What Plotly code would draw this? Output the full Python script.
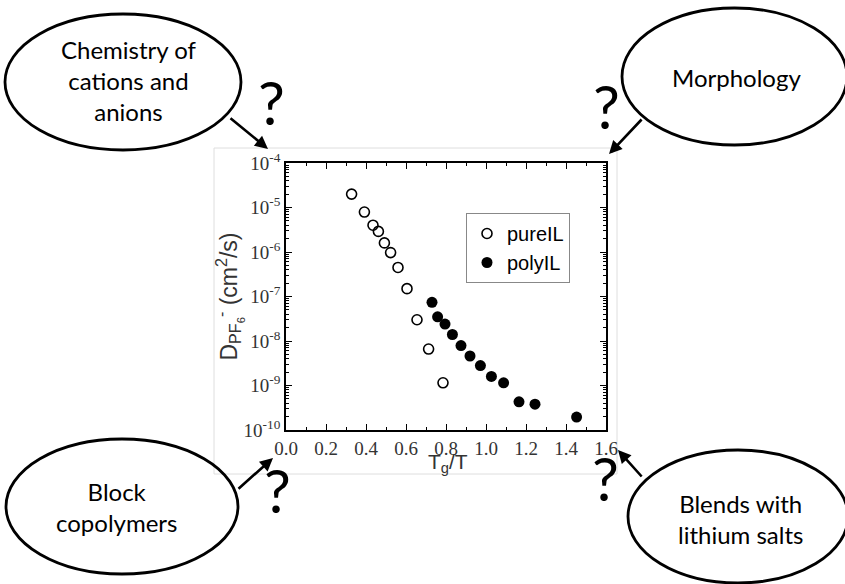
import plotly.graph_objects as go

# Anion diffusivity vs reduced inverse temperature
pure_x = [0.328, 0.392, 0.435, 0.462, 0.492, 0.523, 0.560, 0.605, 0.655, 0.713, 0.785]
pure_d = [2.0e-5, 7.9e-6, 4.0e-6, 2.9e-6, 1.6e-6, 9.7e-7, 4.5e-7, 1.5e-7, 3.0e-8, 6.6e-9, 1.15e-9]

poly_x = [0.730, 0.758, 0.795, 0.832, 0.875, 0.920, 0.972, 1.027, 1.088, 1.165, 1.245, 1.453]
poly_d = [7.4e-8, 3.5e-8, 2.4e-8, 1.4e-8, 7.9e-9, 4.6e-9, 2.8e-9, 1.6e-9, 1.15e-9, 4.3e-10, 3.8e-10, 1.95e-10]

x_ticks = [0.0, 0.2, 0.4, 0.6, 0.8, 1.0, 1.2, 1.4, 1.6]
x_ticktext = ["0.0", "0.2", "0.4", "0.6", "0.8", "1.0", "1.2", "1.4", "1.6"]
y_exponents = [-10, -9, -8, -7, -6, -5, -4]

bubble_texts = ["Chemistry of<br>cations and<br>anions", "Morphology",
                "Block<br>copolymers", "Blends with<br>lithium salts"]

# figure geometry (pixels)
W, H = 845, 584
PL, PR, PT, PB = 286, 606, 163, 430


def px(x):
    return (x - PL) / (PR - PL)


def py(y):
    return (PB - y) / (PB - PT)


fig = go.Figure()
fig.add_trace(go.Scatter(
    x=pure_x, y=pure_d, mode="markers", name="pureIL",
    marker=dict(symbol="circle-open", size=10, color="black", line=dict(width=1.6, color="black")),
))
fig.add_trace(go.Scatter(
    x=poly_x, y=poly_d, mode="markers", name="polyIL",
    marker=dict(symbol="circle", size=11, color="black"),
))

y_tickvals = [10.0 ** e for e in y_exponents]
y_ticktext = ["10<sup>%d</sup>" % e for e in y_exponents]
y_minor = [k * 10.0 ** e for e in y_exponents[:-1] for k in range(2, 10)]

tick_font = dict(family="Liberation Serif, Times New Roman, serif", size=19, color="#333")
sans = "Liberation Sans, Arial, sans-serif"
bubble_font = "Lato, Carlito, Calibri, sans-serif"

fig.update_layout(
    width=W, height=H,
    margin=dict(l=PL, r=W - PR, t=PT, b=H - PB, pad=0),
    paper_bgcolor="white", plot_bgcolor="white",
    template="none",
    showlegend=True,
    legend=dict(
        x=px(466), y=py(213), xanchor="left", yanchor="top",
        bgcolor="white", bordercolor="#888", borderwidth=1,
        font=dict(family=sans, size=20, color="black"),
        itemwidth=30, tracegroupgap=0,
    ),
    xaxis=dict(
        range=[0, 1.6], tickvals=x_ticks, ticktext=x_ticktext,
        ticks="inside", ticklen=6, tickwidth=1.3, tickcolor="black",
        minor=dict(dtick=0.1, tick0=0, ticks="inside", ticklen=3, tickwidth=1.2, tickcolor="black"),
        showline=True, linecolor="black", linewidth=1.8, mirror="ticks",
        showgrid=False, zeroline=False, automargin=False,
        tickfont=tick_font,
    ),
    yaxis=dict(
        type="log", range=[-10, -4], tickvals=y_tickvals, ticktext=y_ticktext,
        ticks="inside", ticklen=6, tickwidth=1.3, tickcolor="black",
        minor=dict(tickvals=y_minor, ticks="inside", ticklen=3, tickwidth=1.0, tickcolor="black"),
        showline=True, linecolor="black", linewidth=1.8, mirror="ticks",
        showgrid=False, zeroline=False, automargin=False,
        tickfont=tick_font,
        title=dict(text="D<sub>PF<sub>6</sub></sub><sup>-</sup> (cm<sup>2</sup>/s)",
                   font=dict(family=sans, size=23, color="#333"), standoff=0),
    ),
)

# x-axis title, set just under the tick labels
fig.add_annotation(xref="paper", yref="paper", x=px(448), y=py(463),
                   text="T<sub>g</sub>/T", showarrow=False, xanchor="center", yanchor="middle",
                   font=dict(family=sans, size=21, color="#333"))

# light frame around the plot panel
fig.add_shape(type="rect", xref="paper", yref="paper",
              x0=px(214), x1=px(617), y0=py(474), y1=py(148),
              line=dict(color="#dedede", width=1), layer="below")

# bubbles: (left, right, top, bottom) in pixels, text centre
bubbles = [
    ((5, 241, 14, 150), (129, 81)),
    ((622, 847, 8, 145), (736, 77)),
    ((6, 238, 439, 574), (116, 507)),
    ((628, 848, 450, 583), (740, 519)),
]
for (l, r, t, b), (tx, ty) in bubbles:
    fig.add_shape(type="circle", xref="paper", yref="paper",
                  x0=px(l), x1=px(r), y0=py(b), y1=py(t),
                  line=dict(color="black", width=2.8))

for text, (_, (tx, ty)) in zip(bubble_texts, bubbles):
    fig.add_annotation(xref="paper", yref="paper", x=px(tx), y=py(ty),
                       text=text, showarrow=False, xanchor="center", yanchor="middle",
                       font=dict(family=bubble_font, size=24, color="black"))

# arrows: tail -> head, in pixels
arrows = [((229, 117), (268, 149)), ((643, 118), (609, 154)),
          ((237, 490), (273, 458)), ((643, 478), (618, 450))]
for (x0, y0), (x1, y1) in arrows:
    fig.add_annotation(xref="paper", yref="paper", x=px(x1), y=py(y1),
                       ax=x0 - x1, ay=y0 - y1, text="", showarrow=True,
                       arrowhead=2, arrowsize=1.0, arrowwidth=2.6, arrowcolor="black")

# question marks
for qx, qy in [(271, 102), (606, 106), (277, 490), (605, 478)]:
    fig.add_annotation(xref="paper", yref="paper", x=px(qx), y=py(qy),
                       text="?", showarrow=False, xanchor="center", yanchor="middle",
                       font=dict(family=bubble_font, size=60, color="black"))

fig.write_html("out.html")
